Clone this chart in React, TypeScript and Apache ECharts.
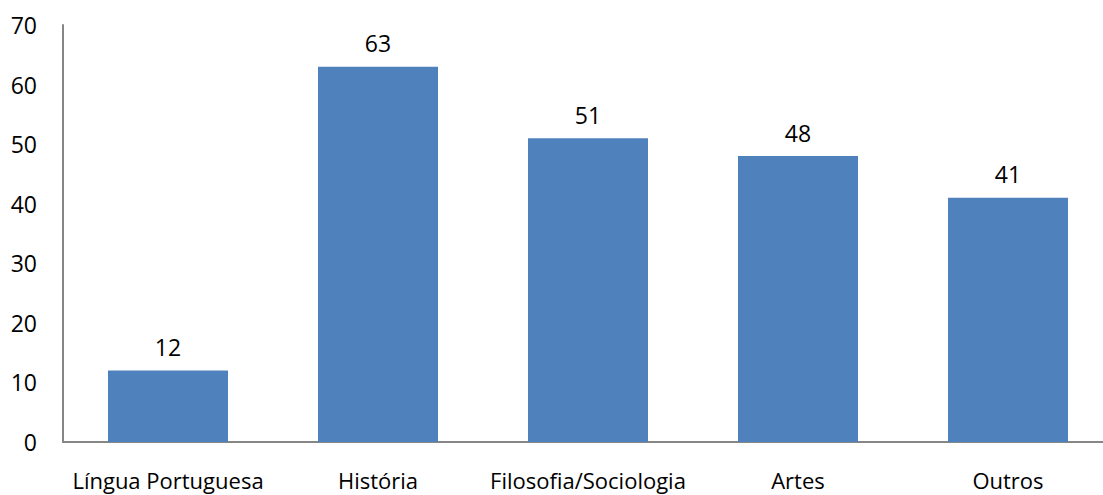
import React, { useEffect, useRef } from "react";
import * as echarts from "echarts";

const categories = ["Língua Portuguesa", "História", "Filosofia/Sociologia", "Artes", "Outros"];
const values = [12, 63, 51, 48, 41];
const yTicks = { min: 0, max: 70, interval: 10 };

export default function App() {
  const ref = useRef<HTMLDivElement>(null);
  useEffect(() => {
    if (!ref.current) return;
    const chart = echarts.init(ref.current, null, { renderer: "svg" });
    const font = "Open Sans, Liberation Sans, sans-serif";
    chart.setOption({
      animation: false,
      grid: { left: 63, top: 25, width: 1050, height: 417, containLabel: false },
      xAxis: {
        type: "category",
        data: categories,
        axisLine: { lineStyle: { color: "#868686", width: 2 } },
        axisTick: { show: false },
        axisLabel: { color: "#000", fontSize: 22, fontFamily: font, margin: 27, interval: 0 },
      },
      yAxis: {
        type: "value",
        min: yTicks.min,
        max: yTicks.max,
        interval: yTicks.interval,
        axisLine: { show: true, lineStyle: { color: "#868686", width: 2 } },
        axisTick: { show: false },
        splitLine: { show: false },
        axisLabel: { color: "#000", fontSize: 23, fontFamily: font, margin: 26 },
      },
      series: [
        {
          type: "bar",
          data: values,
          barWidth: 120,
          itemStyle: { color: "#4F81BD" },
          label: {
            show: true,
            position: "top",
            distance: 12,
            color: "#000",
            fontSize: 23,
            fontFamily: font,
          },
        },
      ],
    });
    return () => chart.dispose();
  }, []);
  return (
    <div style={{ position: "fixed", left: 0, top: 0, width: 1103, height: 495, overflow: "hidden", background: "#fff" }}>
      <div ref={ref} style={{ width: 1140, height: 495 }} />
    </div>
  );
}
